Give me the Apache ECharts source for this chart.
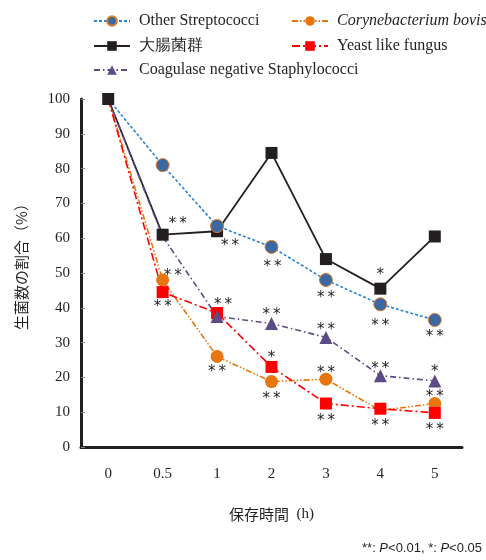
<!DOCTYPE html>
<html>
<head>
<meta charset="utf-8">
<script src="https://cdn.jsdelivr.net/npm/echarts@6/dist/echarts.min.js"></script>
<style>
  html, body { margin: 0; padding: 0; background: #fff; }
  #container { width: 486px; height: 560px; }
</style>
</head>
<body>
<div id="container"></div>
<script>
var dom = document.getElementById("container");
var myChart = echarts.init(dom, null, { renderer: "canvas" });

// storage time (h)
var hours = ["0", "0.5", "1", "2", "3", "4", "5"];
var yTicks = [0, 10, 20, 30, 40, 50, 60, 70, 80, 90, 100];

// ratio of viable count (%)
var otherStrep = [100, 81, 63.5, 57.5, 48, 41, 36.5];
var coryneBovis = [100, 48, 26, 18.8, 19.5, 10.5, 12.5];
var coliform = [100, 61, 62, 84.5, 54, 45.5, 60.5];
var yeastFungus = [100, 44.5, 38.5, 23, 12.5, 11, 9.8];
var cns = [100, 60.5, 37.5, 35.5, 31.5, 20.5, 19];

// significance marks
var otherStrepSig = ["", "", "**", "**", "**", "**", "**"];
var coryneBovisSig = ["", "**", "**", "**", "**", "**", "**"];
var coliformSig = ["", "**", "", "", "", "*", ""];
var yeastFungusSig = ["", "**", "", "*", "**", "**", "**"];
var cnsSig = ["", "", "**", "**", "**", "**", "*"];

// where each mark sits relative to its point
var sigOffset = {
    otherStrep: [null, null, [13, 20], [1, 20], [0, 18], [0, 22], [0, 17]],
    coryneBovis: [null, [10, -4], [0, 16], [0, 18], [0, -6], [0, -9], [0, -6]],
    coliform: [null, [15, -11], null, null, null, [0, -14], null],
    yeastFungus: [null, [0, 15], null, [0, -9], [0, 18], [0, 17], [0, 17]],
    cns: [null, null, [6, -11], [0, -8], [0, -7], [0, -7], [0, -9]]
};
// points whose marker is covered by another series in the figure
var hiddenMarks = {
    otherStrep: [0],
    coryneBovis: [0, 5],
    coliform: [],
    yeastFungus: [0],
    cns: [0, 1]
};

var ink = "#231f20";

function withMarks(values, sig, offs, hidden) {
    return values.map(function (v, i) {
        var item = { value: v };
        if (hidden.indexOf(i) >= 0) item.symbol = "none";
        var s = sig[i];
        if (!s) {
            item.label = { show: false };
            return item;
        }
        item.label = {
            show: true,
            position: "inside",
            offset: offs[i],
            formatter: s.split("").join("\u2009"),
            fontFamily: "DejaVu Sans",
            fontSize: 15,
            color: ink
        };
        return item;
    });
}

function build(key, values, sig) {
    return withMarks(values, sig, sigOffset[key], hiddenMarks[key]);
}

var seriesList = [
    {
        name: "大腸菌群",
        data: build("coliform", coliform, coliformSig),
        symbol: "rect", symbolSize: 12,
        color: ink,
        lineStyle: { color: ink, width: 1.8, type: "solid" },
        itemStyle: { color: ink }
    },
    {
        name: "Corynebacterium bovis",
        data: build("coryneBovis", coryneBovis, coryneBovisSig),
        symbol: "circle", symbolSize: 13,
        color: "#e8760e",
        lineStyle: { color: "#e8760e", width: 1.6, type: [6, 2, 1.5, 2, 1.5, 2] },
        itemStyle: { color: "#e8760e" }
    },
    {
        name: "Yeast like fungus",
        data: build("yeastFungus", yeastFungus, yeastFungusSig),
        symbol: "rect", symbolSize: 12,
        color: "#ff0000",
        lineStyle: { color: "#ff0000", width: 1.6, type: [8, 3, 2, 3] },
        itemStyle: { color: "#ff0000" }
    },
    {
        name: "Coagulase negative Staphylococci",
        data: build("cns", cns, cnsSig),
        symbol: "triangle", symbolSize: 13,
        color: "#5d4b86",
        lineStyle: { color: "#5d4b86", width: 1.6, type: [6, 3, 1.5, 3] },
        itemStyle: { color: "#5d4b86" }
    },
    {
        name: "Other Streptococci",
        data: build("otherStrep", otherStrep, otherStrepSig),
        symbol: "circle", symbolSize: 13,
        color: "#3a68a2",
        lineStyle: { color: "#2a84d2", width: 1.6, type: [3, 2] },
        itemStyle: { color: "#3a68a2", borderColor: "#e07b26", borderWidth: 1 }
    }
].map(function (s) {
    return Object.assign({
        type: "line",
        showSymbol: true,
        animation: false,
        emphasis: { disabled: true }
    }, s);
});

function legendAt(name, left, top, italic) {
    return {
        data: [name],
        left: left,
        top: top,
        selectedMode: false,
        itemWidth: 36,
        itemHeight: 12,
        itemGap: 0,
        textStyle: {
            fontFamily: "Liberation Serif",
            fontSize: 16,
            fontStyle: italic ? "italic" : "normal",
            color: ink,
            padding: [0, 0, 0, 4]
        }
    };
}

var option = {
    backgroundColor: "#fff",
    animation: false,
    legend: [
        legendAt("Other Streptococci", 88, 8),
        legendAt("Corynebacterium bovis", 286, 8, true),
        legendAt("大腸菌群", 88, 33),
        legendAt("Yeast like fungus", 286, 33),
        legendAt("Coagulase negative Staphylococci", 88, 57)
    ],
    grid: { left: 81, right: 24, top: 99, bottom: 113 },
    xAxis: {
        type: "category",
        data: hours,
        boundaryGap: true,
        name: "{a|保存時間}{b|  (h)}",
        nameLocation: "middle",
        nameGap: 60,
        nameTextStyle: {
            rich: {
                a: { fontFamily: "Noto Sans CJK JP", fontSize: 15, color: ink },
                b: { fontFamily: "Liberation Serif", fontSize: 15, color: ink }
            }
        },
        axisLine: { lineStyle: { color: ink, width: 3 } },
        axisTick: { inside: true, length: 4, lineStyle: { color: "#888", width: 1 } },
        axisLabel: { margin: 20, fontFamily: "Liberation Serif", fontSize: 15, color: ink },
        splitLine: { show: false }
    },
    yAxis: {
        type: "value",
        min: yTicks[0],
        max: yTicks[yTicks.length - 1],
        interval: 10,
        name: "生菌数の割合（%）",
        nameLocation: "middle",
        nameGap: 52,
        nameRotate: 90,
        nameTextStyle: {
            fontFamily: "Noto Sans CJK JP",
            fontSize: 15,
            color: ink,
            padding: [0, 0, 0, 20]
        },
        axisLine: { show: true, lineStyle: { color: ink, width: 3 } },
        axisTick: { show: true, inside: true, length: 4, lineStyle: { color: "#888", width: 1 } },
        axisLabel: { margin: 11, fontFamily: "Liberation Serif", fontSize: 15, color: ink },
        splitLine: { show: false }
    },
    graphic: [
        {
            type: "text",
            right: 4,
            top: 542,
            style: {
                text: "{n|**: }{i|P}{n|<0.01, *: }{i|P}{n|<0.05}",
                rich: {
                    n: { fontFamily: "Liberation Sans", fontSize: 13, fill: ink },
                    i: { fontFamily: "Liberation Sans", fontSize: 13, fontStyle: "italic", fill: ink }
                }
            }
        }
    ],
    series: seriesList
};

if (option && typeof option === "object") {
    myChart.setOption(option);
}

window.addEventListener("resize", myChart.resize);
</script>
</body>
</html>
